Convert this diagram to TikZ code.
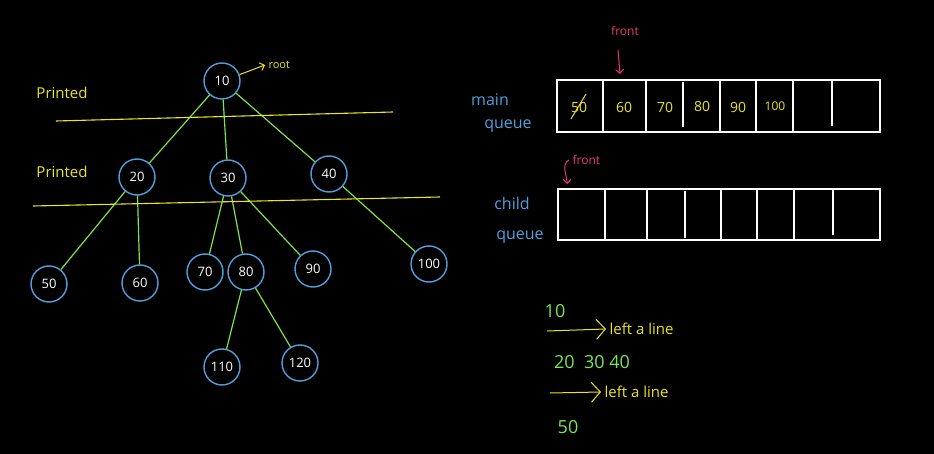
\documentclass[tikz,border=0pt]{standalone}
\usepackage{fontspec}
\setmainfont{Open Sans}
\usetikzlibrary{arrows.meta}
\definecolor{cblue}{RGB}{80,160,220}
\definecolor{cgreen}{RGB}{130,225,70}
\definecolor{cyel}{RGB}{235,230,30}
\definecolor{cpink}{RGB}{235,60,110}
\definecolor{lgreen}{RGB}{120,230,90}
\begin{document}
\begin{tikzpicture}[x=1pt,y=-1pt,
  tn/.style={circle,draw=cblue,line width=1.4pt,minimum size=36pt,inner sep=0pt,text=white,font=\fontsize{13}{13}\selectfont},
  edge/.style={draw=cgreen,line width=1.2pt},
  yl/.style={draw=cyel,line width=1.1pt},
  yt/.style={text=cyel,font=\fontsize{15}{15}\selectfont},
  bt/.style={text=cblue,font=\fontsize{16}{16}\selectfont},
  pt/.style={text=cpink,font=\fontsize{12}{12}\selectfont},
  qbox/.style={draw=white,line width=1.4pt},
  qt/.style={text=cyel,font=\fontsize{14}{14}\selectfont},
  gt/.style={text=lgreen,font=\fontsize{18}{18}\selectfont},
  bigarr/.style={cyel,line width=1pt,-{Straight Barb[length=9pt,width=20pt]}}]
\fill[black] (0,0) rectangle (934,454);
\useasboundingbox (0,0) rectangle (934,454);
% tree nodes
\node[tn] (n10) at (222,81) {10};
\node[tn] (n20) at (137,177) {20};
\node[tn] (n30) at (228,178) {30};
\node[tn] (n40) at (329,174) {40};
\node[tn] (n50) at (49,284) {50};
\node[tn] (n60) at (140,283) {60};
\node[tn] (n70) at (205,272) {70};
\node[tn] (n80) at (246,272) {80};
\node[tn] (n90) at (313,269) {90};
\node[tn] (n100) at (429,264) {100};
\node[tn] (n110) at (222,367) {110};
\node[tn] (n120) at (300,363) {120};
\foreach \a/\b in {n10/n20,n10/n30,n10/n40,n20/n50,n20/n60,n30/n70,n30/n80,n30/n90,n40/n100,n80/n110,n80/n120}
  \draw[edge] (\a) -- (\b);
% printed lines
\coordinate (l1a) at (56,121); \coordinate (l1b) at (393,112);
\coordinate (l2a) at (33,206); \coordinate (l2b) at (440,197);
\draw[yl] (l1a) -- (l1b);
\draw[yl] (l2a) -- (l2b);
\node[yt] (p1) at (62,93) {Printed};
\node[yt] (p2) at (62,172) {Printed};
\node[text=cyel,font=\fontsize{11}{11}\selectfont,anchor=west] (root) at (265,65) {root};
\draw[cyel,line width=1pt,-{Straight Barb[length=4pt]}] (n10.20) -- (root.west);
% main queue
\node[bt] (mq1) at (490,100) {main};
\node[bt] (mq2) at (508,126) {queue};
\draw[qbox] (557,80) rectangle (880,132);
\foreach \x in {603,646,720,756,793} \draw[qbox] (\x,80) -- (\x,132);
\draw[qbox] (683,82) -- (683,127);
\draw[qbox] (832,80) -- (832,126);
\node[qt] (c1) at (579,107) {50};
\draw[cyel,line width=1pt] (571,119) -- (586,94);
\node[qt] (c2) at (624,107) {60};
\node[qt] (c3) at (665,107) {70};
\node[qt] (c4) at (702,106) {80};
\node[qt] (c5) at (738,107) {90};
\node[qt,font=\fontsize{12}{12}\selectfont] (c6) at (775,106) {100};
\node[pt] (f1) at (625,31) {front};
\coordinate (f1e) at (620,74);
\draw[cpink,line width=1pt,-{Straight Barb[length=4pt]}] (618,50) -- (f1e);
% child queue
\node[bt] (cq1) at (512,204) {child};
\node[bt] (cq2) at (520,237) {queue};
\draw[qbox] (558,189) rectangle (880,240);
\foreach \x in {605,647,721,757,794} \draw[qbox] (\x,189) -- (\x,240);
\draw[qbox] (685,191) -- (685,238);
\draw[qbox] (833,190) -- (833,235);
\node[pt,anchor=west] (f2) at (569,160) {front};
\coordinate (f2e) at (567,184);
\draw[cpink,line width=1pt,-{Straight Barb[length=4pt]}] (f2.west) to[out=-150,in=90] (f2e);
% bottom notes
\node[gt] (t10) at (555,311) {10};
\node[yt,anchor=west] (la1) at (606,329) {left a line};
\coordinate (a1s) at (547,331);
\draw[bigarr] (a1s) -- (la1.west);
\node[gt] (t20) at (592,362) {20\ \ 30 40};
\node[yt,anchor=west] (la2) at (601,392) {left a line};
\coordinate (a2s) at (550,393);
\draw[bigarr] (a2s) -- (la2.west);
\node[gt] (t50) at (568,427) {50};
\end{tikzpicture}
\end{document}
